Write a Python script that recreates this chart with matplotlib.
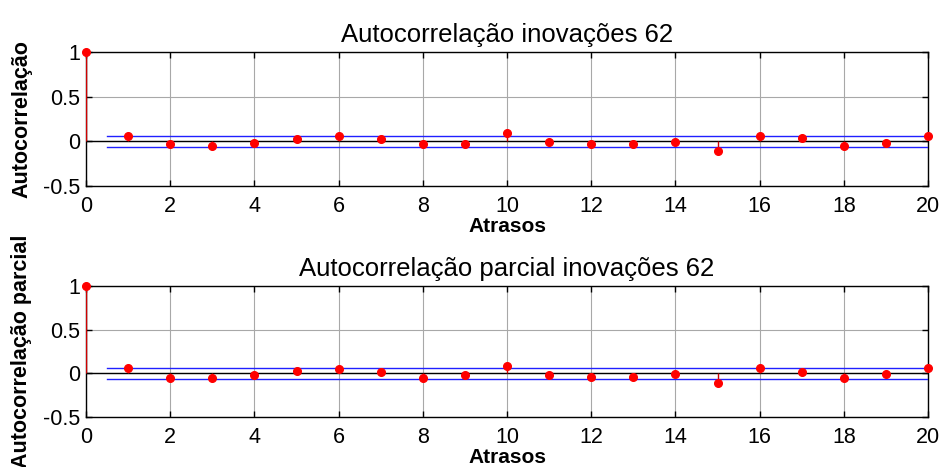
import matplotlib
matplotlib.use("Agg")
import matplotlib.pyplot as plt
import numpy as np

plt.rcParams['font.family'] = ['Liberation Sans', 'DejaVu Sans']

# Data
lags = np.arange(0, 21)
acf = [1.0, 0.06, -0.034, -0.052, -0.019, 0.03, 0.06, 0.03, -0.034, -0.034, 0.09,
       -0.003, -0.034, -0.034, -0.004, -0.11, 0.056, 0.04, -0.049, -0.015, 0.056]
pacf = [1.0, 0.057, -0.05, -0.05, -0.023, 0.03, 0.046, 0.011, -0.05, -0.023, 0.09,
        -0.023, -0.038, -0.038, -0.008, -0.114, 0.057, 0.011, -0.05, -0.008, 0.057]
bound_acf = 0.06
bound_pacf = 0.061

titles = ["Autocorrelação inovações 62", "Autocorrelação parcial inovações 62"]
ylabels = ["Autocorrelação", "Autocorrelação parcial"]
xticks = np.arange(0, 21, 2)
yticks = [-0.5, 0, 0.5, 1]
yticklabels = ["-0.5", "0", "0.5", "1"]

fig = plt.figure(figsize=(9.44, 4.67), dpi=100)
ax1 = fig.add_axes([0.0911, 0.6017, 0.892, 0.287])
ax2 = fig.add_axes([0.0911, 0.1064, 0.892, 0.282])

for ax, vals, bnd, title, ylab in zip([ax1, ax2], [acf, pacf], [bound_acf, bound_pacf],
                                      titles, ylabels):
    ax.set_xlim(0, 20)
    ax.set_ylim(-0.5, 1)
    ax.grid(True, color='#a8a8a8', linewidth=0.8, linestyle='-')
    ax.set_axisbelow(True)
    # stems
    ax.vlines(lags, 0, vals, color='#d00000', linewidth=1.0, zorder=3)
    ax.axhline(0, color='black', linewidth=1.0, zorder=2)
    ax.plot(lags, vals, 'o', color='red', markersize=5.5, zorder=4, clip_on=False)
    # confidence bounds
    ax.plot([0.5, 20], [bnd, bnd], color='#2020ff', linewidth=1.0, zorder=3)
    ax.plot([0.5, 20], [-bnd, -bnd], color='#2020ff', linewidth=1.0, zorder=3)

    ax.set_xticks(xticks)
    ax.set_yticks(yticks)
    ax.set_yticklabels(yticklabels)
    ax.tick_params(direction='in', top=True, right=True, length=4, width=1,
                   labelsize=15.5)
    ax.tick_params(axis='x', pad=7)
    ax.tick_params(axis='y', pad=4)
    for s in ax.spines.values():
        s.set_linewidth(1.0)
        s.set_color('black')
    ax.set_title(title, fontsize=18.5, pad=7)
    ax.set_xlabel("Atrasos", fontsize=15, fontweight='bold', labelpad=0)
    ax.set_ylabel(ylab, fontsize=15.5, fontweight='bold')
    ax.yaxis.set_label_coords(-0.064, 0.5)

fig.savefig("out.png", dpi=100)
